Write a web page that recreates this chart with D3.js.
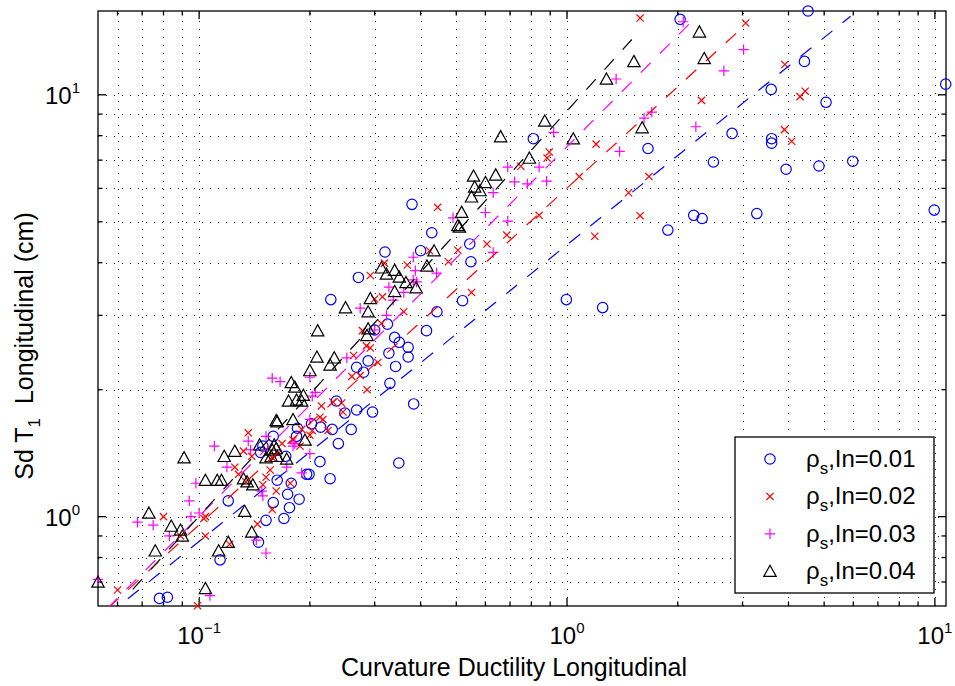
<!DOCTYPE html>
<html>
<head>
<meta charset="utf-8">
<script src="https://cdn.jsdelivr.net/npm/d3@7"></script>
<style>
  body { margin: 0; background: #fff; }
  text { font-family: "Liberation Sans", Arial, Helvetica, sans-serif; fill: #000; }
</style>
</head>
<body>
<div id="chart"></div>
<script>
const width = 955, height = 686;

// axis limits and tick labels
const xDomain = [0.0531, 10.72];
const yDomain = [0.614, 15.8];
const xMajorTicks = [0.1, 1, 10];
const xTickExponents = ["\u22121", "0", "1"];
const yMajorTicks = [1, 10];
const yTickExponents = ["0", "1"];

const seriesNames = ["0.01", "0.02", "0.03", "0.04"];
const seriesColors = ["#0000ff", "#ff0000", "#ff00ff", "#000000"];
const seriesMarkers = ["circle", "cross", "plus", "triangle"];

// rho_s,ln = 0.01
const blueData = [
  [4.52,15.8],[2.03,15.1],[4.42,12.0],[3.59,10.3],[10.7,10.6],[5.06,9.6],[2.81,8.1],[3.6,7.87],[3.6,7.68],
  [1.66,7.46],[2.5,6.93],[3.94,6.66],[4.84,6.78],[5.98,6.96],[9.96,5.33],[3.28,5.23],[2.21,5.18],[2.33,5.09],
  [1.88,4.78],[0.996,3.27],[1.25,3.13],[0.81,7.87],
  [0.379,5.5],[0.429,4.71],[0.40,4.27],[0.32,4.24],[0.544,4.43],[0.548,4.02],[0.271,3.69],[0.228,3.27],
  [0.52,3.25],[0.443,3.06],[0.415,2.76],[0.325,2.86],[0.30,2.77],[0.34,2.66],
  [0.328,2.44],[0.35,2.59],[0.37,2.52],[0.342,2.27],[0.37,2.39],[0.288,2.34],[0.268,2.26],[0.28,2.2],
  [0.33,2.07],[0.383,1.85],[0.296,1.77],[0.268,1.79],[0.259,1.61],[0.239,1.49],[0.249,1.76],[0.236,1.88],
  [0.349,1.34],[0.213,1.35],[0.227,1.23],[0.196,1.26],[0.199,1.26],[0.185,1.62],[0.184,1.55],[0.214,1.63],
  [0.202,1.66],[0.23,1.61],[0.159,1.55],[0.149,1.47],[0.147,1.42],[0.172,1.39],[0.163,1.22],[0.174,1.13],
  [0.178,1.2],[0.187,1.1],[0.159,1.08],[0.176,1.05],[0.152,0.98],[0.17,0.99],[0.12,1.09],[0.145,0.87],
  [0.114,0.79],[0.078,0.64],[0.082,0.644]
];

// rho_s,ln = 0.02
const redData = [
  [1.58,15.2],[3.06,14.8],[3.91,11.8],[4.44,10.2],[4.30,9.9],[2.32,9.7],[3.9,8.27],[4.08,7.76],[1.2,7.64],
  [0.895,7.32],[0.883,7.08],[0.749,6.77],[1.08,6.4],[1.67,6.4],[0.84,5.18],[1.47,5.86],[1.58,5.17],
  [0.686,4.65],[1.19,4.62],[0.606,4.43],
  [0.445,5.41],[0.292,3.73],[0.319,3.99],[0.368,3.95],[0.423,4.27],[0.476,4.02],[0.505,4.28],[0.30,3.28],
  [0.315,3.32],[0.36,3.06],[0.55,3.4],[0.278,2.76],[0.313,2.87],
  [0.285,2.54],[0.292,2.51],[0.263,2.41],[0.306,2.32],[0.26,2.15],[0.274,2.16],[0.286,2.0],[0.231,1.87],
  [0.244,1.86],[0.215,1.83],[0.213,1.72],[0.217,1.7],[0.246,1.77],[0.224,1.6],[0.203,1.6],[0.2,1.56],
  [0.18,1.52],[0.188,1.47],[0.19,1.61],[0.168,1.49],[0.164,1.41],[0.158,1.38],[0.156,1.29],[0.152,1.24],
  [0.162,1.15],[0.177,1.2],[0.149,1.19],[0.136,1.58],[0.132,1.43],[0.139,1.39],[0.125,1.31],[0.128,1.26],
  [0.134,1.21],[0.158,1.04],[0.144,0.96],[0.104,1.0],[0.103,0.99],[0.104,0.9],[0.121,0.86],[0.089,0.9],
  [0.08,1.0],[0.06,0.67],[0.099,0.615]
];

// rho_s,ln = 0.03
const magentaData = [
  [2.07,14.9],[3.02,12.8],[2.67,11.4],[1.36,10.9],[1.7,9.1],[1.62,8.8],[2.24,8.4],[1.39,7.34],[0.92,8.15],
  [0.69,6.74],[0.84,6.74],[0.72,6.22],[0.78,6.15],[0.88,6.24],[0.63,5.86],[0.6,5.26],[0.69,5.02],[0.63,4.23],
  [0.49,5.11],[0.382,4.12],[0.387,3.83],[0.382,3.64],[0.442,3.78],[0.328,3.5],[0.337,3.26],[0.274,3.12],
  [0.36,3.4],[0.39,3.6],[0.323,3.0],[0.3,2.77],
  [0.252,2.38],[0.203,1.93],[0.207,1.97],[0.2,2.14],[0.158,2.13],[0.166,2.09],[0.2,1.7],[0.2,1.41],
  [0.19,1.27],[0.173,1.31],[0.18,1.47],[0.182,1.49],[0.152,1.55],[0.136,1.51],[0.138,1.44],[0.119,1.31],
  [0.11,1.47],[0.098,1.2],[0.094,1.09],[0.095,1.0],[0.1,1.02],[0.068,0.97],[0.075,0.955],[0.083,0.9],
  [0.148,1.15],[0.149,1.12],[0.143,0.88],[0.152,0.82],[0.107,0.65],[0.053,0.71]
];

// rho_s,ln = 0.04
const blackData = [
  [2.29,14.1],[2.36,12.2],[1.52,12.0],[1.28,10.9],[0.87,8.67],[0.66,7.96],[1.04,7.87],[1.6,8.36],[0.79,7.08],
  [0.64,6.46],[0.6,6.2],[0.58,5.93],
  [0.557,6.42],[0.561,6.05],[0.55,5.73],[0.517,5.27],[0.505,4.9],[0.51,4.86],[0.435,4.27],[0.416,3.93],
  [0.313,3.89],[0.323,3.76],[0.34,3.84],[0.35,3.7],[0.365,3.59],[0.34,3.42],[0.389,3.49],[0.292,3.29],
  [0.25,3.13],[0.288,3.06],[0.21,2.76],[0.288,2.79],[0.286,2.69],
  [0.209,2.39],[0.233,2.38],[0.227,2.29],[0.2,2.22],[0.178,2.08],[0.182,2.03],[0.175,1.88],[0.184,1.89],
  [0.192,1.94],[0.19,1.88],[0.162,1.69],[0.163,1.68],[0.18,1.7],[0.194,1.52],[0.146,1.48],[0.16,1.48],
  [0.158,1.44],[0.162,1.45],[0.125,1.43],[0.117,1.39],[0.152,1.38],[0.157,1.39],[0.163,1.39],[0.173,1.37],
  [0.091,1.38],[0.104,1.22],[0.112,1.22],[0.115,1.22],[0.132,1.23],[0.135,1.21],[0.14,1.19],[0.133,1.03],
  [0.139,0.92],[0.12,0.87],[0.113,0.83],[0.073,1.02],[0.084,0.95],[0.089,0.93],[0.09,0.9],[0.076,0.83],
  [0.0531,0.70],[0.104,0.676]
];

// power-law fits y = a * x^b, drawn over an x range
const fitA = [4.41, 6.01, 7.53, 9.16];
const fitB = [0.703, 0.798, 0.876, 0.961];
const fitRange = [[0.064, 5.9], [0.05, 3.05], [0.05, 2.15], [0.066, 1.5]];

const allData = [blueData, redData, magentaData, blackData];

const plotLeft = 98, plotRight = 946, plotTop = 11, plotBottom = 606;

const x = d3.scaleLog().domain(xDomain).range([plotLeft, plotRight]);
const y = d3.scaleLog().domain(yDomain).range([plotBottom, plotTop]);

const svg = d3.select("#chart")
    .append("svg")
    .attr("width", width)
    .attr("height", height);

svg.append("defs").append("clipPath")
    .attr("id", "plotClip")
    .append("rect")
    .attr("x", plotLeft).attr("y", plotTop)
    .attr("width", plotRight - plotLeft).attr("height", plotBottom - plotTop);

// every 1..9 multiple inside the domain
function logTicks(domain) {
    const out = [];
    for (let e = Math.floor(Math.log10(domain[0])); e <= Math.ceil(Math.log10(domain[1])); e++) {
        for (let k = 1; k < 10; k++) {
            const v = k * Math.pow(10, e);
            if (v >= domain[0] && v <= domain[1]) out.push({v: v, major: k === 1});
        }
    }
    return out;
}
const xTicks = logTicks(xDomain);
const yTicks = logTicks(yDomain);

// dotted grid
const grid = svg.append("g")
    .attr("stroke", "#222")
    .attr("stroke-width", 1)
    .attr("stroke-dasharray", "1,7");
grid.selectAll(".vg").data(xTicks).join("line")
    .attr("class", "vg")
    .attr("x1", d => Math.round(x(d.v)) + 0.5).attr("x2", d => Math.round(x(d.v)) + 0.5)
    .attr("y1", plotBottom).attr("y2", plotTop);
grid.selectAll(".hg").data(yTicks).join("line")
    .attr("class", "hg")
    .attr("y1", d => Math.round(y(d.v)) + 0.5).attr("y2", d => Math.round(y(d.v)) + 0.5)
    .attr("x1", plotLeft).attr("x2", plotRight);

// box and inward ticks on all sides
const axes = svg.append("g").attr("stroke", "#000").attr("stroke-width", 1.3);
axes.append("rect")
    .attr("x", plotLeft).attr("y", plotTop)
    .attr("width", plotRight - plotLeft).attr("height", plotBottom - plotTop)
    .attr("fill", "none");
const tickLen = d => d.major ? 8 : 4.5;
axes.selectAll(".xb").data(xTicks).join("line")
    .attr("x1", d => x(d.v)).attr("x2", d => x(d.v))
    .attr("y1", plotBottom).attr("y2", d => plotBottom - tickLen(d));
axes.selectAll(".xt").data(xTicks).join("line")
    .attr("x1", d => x(d.v)).attr("x2", d => x(d.v))
    .attr("y1", plotTop).attr("y2", d => plotTop + tickLen(d));
axes.selectAll(".yl").data(yTicks).join("line")
    .attr("y1", d => y(d.v)).attr("y2", d => y(d.v))
    .attr("x1", plotLeft).attr("x2", d => plotLeft + tickLen(d));
axes.selectAll(".yr").data(yTicks).join("line")
    .attr("y1", d => y(d.v)).attr("y2", d => y(d.v))
    .attr("x1", plotRight).attr("x2", d => plotRight - tickLen(d));

// tick labels 10^n
xMajorTicks.forEach((v, i) => {
    const t = svg.append("text")
        .attr("x", x(v)).attr("y", 644)
        .attr("text-anchor", "middle")
        .attr("font-size", 24);
    t.append("tspan").text("10");
    t.append("tspan").attr("dy", -11).attr("font-size", 15).text(xTickExponents[i]);
});
yMajorTicks.forEach((v, i) => {
    const t = svg.append("text")
        .attr("x", 80).attr("y", y(v) + 9)
        .attr("text-anchor", "end")
        .attr("font-size", 24);
    t.append("tspan").text("10");
    t.append("tspan").attr("dy", -11).attr("font-size", 15).text(yTickExponents[i]);
});

// axis labels
svg.append("text")
    .attr("x", 514).attr("y", 676)
    .attr("text-anchor", "middle")
    .attr("font-size", 25)
    .text("Curvature Ductility Longitudinal");

const yl = svg.append("text")
    .attr("transform", "translate(33,346) rotate(-90)")
    .attr("text-anchor", "middle")
    .attr("font-size", 25)
    .style("white-space", "pre");
yl.append("tspan").text("Sd T");
yl.append("tspan").attr("dy", 7).attr("font-size", 17).text("1");
yl.append("tspan").attr("dy", -7).text("  Longitudinal (cm)");

// marker shapes
function drawMarker(sel, kind, color) {
    if (kind === "circle") {
        sel.append("circle").attr("r", 5.2)
            .attr("fill", "none").attr("stroke", color).attr("stroke-width", 1.2);
    } else if (kind === "cross") {
        sel.append("path").attr("d", "M-3.6,-3.6L3.6,3.6M-3.6,3.6L3.6,-3.6")
            .attr("stroke", color).attr("stroke-width", 1.2);
    } else if (kind === "plus") {
        sel.append("path").attr("d", "M-5.2,0H5.2M0,-5.2V5.2")
            .attr("stroke", color).attr("stroke-width", 1.2);
    } else {
        sel.append("path").attr("d", "M0,-6L6.2,5.2H-6.2Z")
            .attr("fill", "none").attr("stroke", color).attr("stroke-width", 1.2);
    }
}

allData.forEach((data, i) => {
    const g = svg.append("g");
    g.selectAll("g").data(data).join("g")
        .attr("transform", d => `translate(${x(d[0])},${y(d[1])})`)
        .each(function () { drawMarker(d3.select(this), seriesMarkers[i], seriesColors[i]); });
});

// fitted dashed lines
const fitG = svg.append("g").attr("clip-path", "url(#plotClip)");
fitA.forEach((a, i) => {
    const xs = fitRange[i];
    fitG.append("line")
        .attr("x1", x(xs[0])).attr("y1", y(a * Math.pow(xs[0], fitB[i])))
        .attr("x2", x(xs[1])).attr("y2", y(a * Math.pow(xs[1], fitB[i])))
        .attr("stroke", seriesColors[i])
        .attr("stroke-width", 1.2)
        .attr("stroke-dasharray", "14,13");
});

// legend
const legend = svg.append("g");
legend.append("rect")
    .attr("x", 735).attr("y", 437).attr("width", 199).attr("height", 156)
    .attr("fill", "#fff").attr("stroke", "#000").attr("stroke-width", 1.3);
seriesNames.forEach((name, i) => {
    const ry = 459 + i * 37.4;
    const m = legend.append("g").attr("transform", `translate(770,${ry})`);
    drawMarker(m, seriesMarkers[i], seriesColors[i]);
    const t = legend.append("text")
        .attr("x", 806).attr("y", ry + 8)
        .attr("font-size", 24);
    t.append("tspan").text("\u03c1");
    t.append("tspan").attr("dy", 7).attr("font-size", 17).text("s");
    t.append("tspan").attr("dy", -7).text(",In=" + name);
});
</script>
</body>
</html>
